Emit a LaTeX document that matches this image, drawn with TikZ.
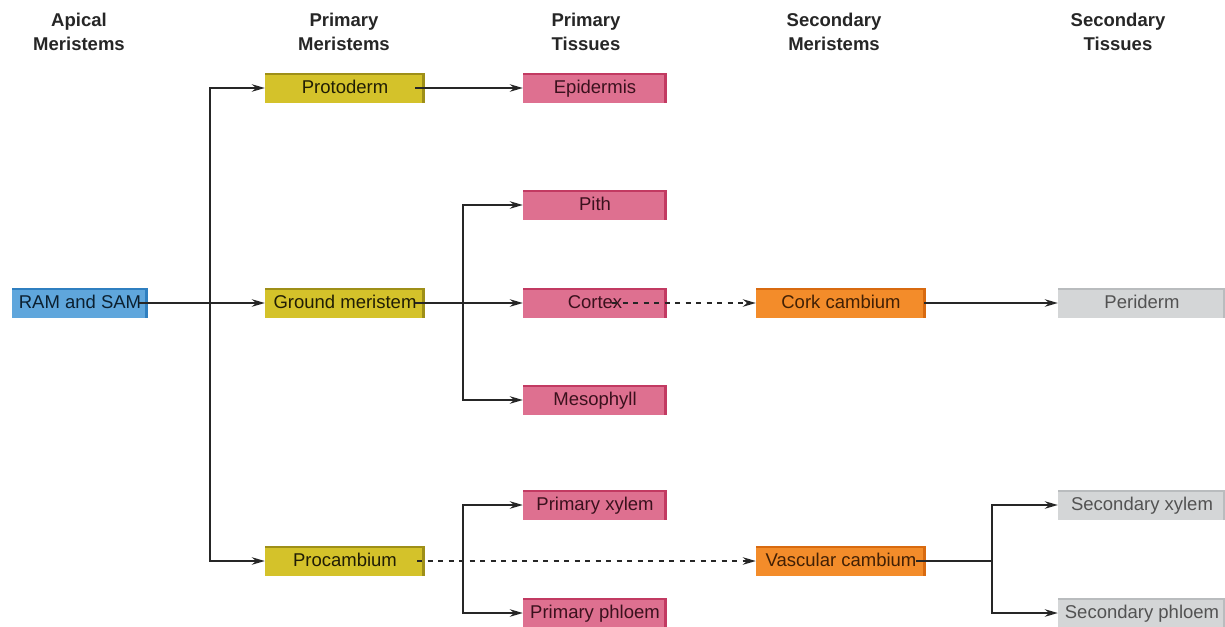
\documentclass[tikz,border=0pt]{standalone}
\usepackage{fontspec}
\setmainfont{Liberation Sans}
\usetikzlibrary{arrows.meta}
\definecolor{cblue}{HTML}{5FA6DC}
\definecolor{cblueD}{HTML}{2F7FC0}
\definecolor{cyel}{HTML}{D4C22A}
\definecolor{cyelD}{HTML}{9E8F18}
\definecolor{cpink}{HTML}{DE7090}
\definecolor{cpinkD}{HTML}{C23A62}
\definecolor{corg}{HTML}{F38C2A}
\definecolor{corgD}{HTML}{D86A10}
\definecolor{cgray}{HTML}{D4D6D7}
\definecolor{cgrayD}{HTML}{B9BCBE}
\definecolor{lin}{HTML}{262626}
\tikzset{
  box/.style n args={3}{rectangle, minimum height=30pt, inner sep=0pt,
    text height=13.5pt, text depth=3.5pt,
    fill=#1, text=#3, font=\fontsize{18.5}{22}\selectfont,
    path picture={
      \fill[#2] ([xshift=-3pt]path picture bounding box.north east) rectangle (path picture bounding box.south east);
      \fill[#2] (path picture bounding box.north west) rectangle ([yshift=-1.5pt]path picture bounding box.north east);
    }},
  bluebox/.style={box={cblue}{cblueD}{black!75!cblueD}, minimum width=136pt},
  yelbox/.style={box={cyel}{cyelD}{black!80!cyelD}, minimum width=160pt},
  pinkbox/.style={box={cpink}{cpinkD}{black!70!cpinkD}, minimum width=144pt},
  orgbox/.style={box={corg}{corgD}{black!70!corgD}, minimum width=170pt},
  graybox/.style={box={cgray}{cgrayD}{black!68}, minimum width=168pt},
  hdr/.style={align=center, font=\fontsize{18.5}{24}\selectfont\bfseries, text=black!85},
  arr/.style={draw=lin, line width=1.8pt, -{Stealth[length=13pt,width=7.5pt]}},
  ln/.style={draw=lin, line width=1.8pt},
  dotarr/.style={arr, dash pattern=on 5pt off 5.5pt}
}
\begin{document}
\begin{tikzpicture}[x=1pt,y=-1pt]
\useasboundingbox (0,0) rectangle (1225,626);
% headers
\node[hdr] (h1) at (79,32) {Apical\\Meristems};
\node[hdr] (h2) at (344,32) {Primary\\Meristems};
\node[hdr] (h3) at (586,32) {Primary\\Tissues};
\node[hdr] (h4) at (834,32) {Secondary\\Meristems};
\node[hdr] (h5) at (1118,32) {Secondary\\Tissues};
% boxes
\node[bluebox] (ram) at (80,303) {RAM and SAM};
\node[yelbox] (proto) at (345,88) {Protoderm};
\node[yelbox] (ground) at (345,303) {Ground meristem};
\node[yelbox] (proc) at (345,561) {Procambium};
\node[pinkbox] (epi) at (595,88) {Epidermis};
\node[pinkbox] (pith) at (595,205) {Pith};
\node[pinkbox] (cortex) at (595,303) {Cortex};
\node[pinkbox] (meso) at (595,400) {Mesophyll};
\node[pinkbox] (pxyl) at (595,505) {Primary xylem};
\node[pinkbox] (pphl) at (595,613) {Primary phloem};
\node[orgbox] (cork) at (841,303) {Cork cambium};
\node[orgbox] (vasc) at (841,561) {Vascular cambium};
\node[graybox] (peri) at (1142,303) {Periderm};
\node[graybox] (sxyl) at (1142,505) {Secondary xylem};
\node[graybox] (sphl) at (1142,613) {Secondary phloem};
% junctions
\coordinate (j1) at (210,303);
\coordinate (j2) at (463,303);
\coordinate (j3) at (463,561);
\coordinate (j4) at (992,561);
% connectors
\draw[arr] ([xshift=-9pt]ram.east) -- (ground.west);
\draw[arr] (j1) |- (proto.west);
\draw[arr] (j1) |- (proc.west);
\draw[arr] ([xshift=-10pt]proto.east) -- (epi.west);
\draw[arr] ([xshift=-10pt]ground.east) -- (cortex.west);
\draw[arr] (j2) |- (pith.west);
\draw[arr] (j2) |- (meso.west);
\draw[dotarr] ([xshift=17pt]cortex.center) -- (cork.west);
\draw[arr] ([xshift=-2pt]cork.east) -- (peri.west);
\draw[ln] (j3 |- pxyl.west) -- (j3 |- pphl.west);
\draw[arr] (j3) |- (pxyl.west);
\draw[arr] (j3) |- (pphl.west);
\draw[dotarr] ([xshift=-8pt]proc.east) -- (vasc.west);
\draw[ln] ([xshift=-10pt]vasc.east) -- (j4);
\draw[arr] (j4) |- (sxyl.west);
\draw[arr] (j4) |- (sphl.west);
\end{tikzpicture}
\end{document}
